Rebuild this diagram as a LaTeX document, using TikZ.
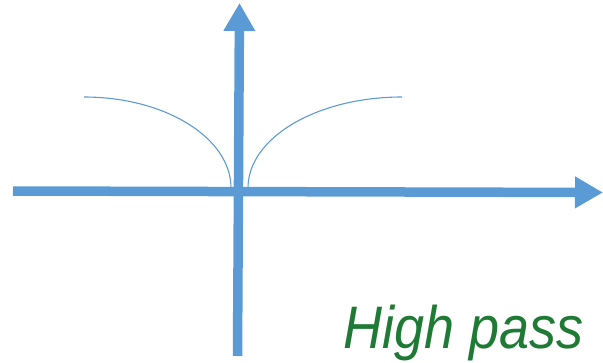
\documentclass[tikz,border=0pt]{standalone}
\usepackage{fontspec}
\setmainfont{Liberation Sans}
\usetikzlibrary{arrows.meta}
\definecolor{axisblue}{RGB}{91,155,213}
\definecolor{penGreen}{RGB}{30,122,52}
\tikzset{
  axis/.style={draw=axisblue, line width=9.5pt, -{Triangle[width=30pt,length=28pt]}},
  curve/.style={draw=axisblue, line width=1.1pt},
  hand/.style={text=penGreen, font=\itshape\fontsize{60}{60}\selectfont, anchor=base west, inner sep=0pt}
}
\begin{document}
\begin{tikzpicture}[x=1pt,y=-1pt]
\useasboundingbox (0,0) rectangle (603,362);
\coordinate (hl) at (13,191);
\coordinate (hr) at (603,192.5);
\coordinate (vb) at (237.5,356);
\coordinate (vt) at (239.5,3);
\draw[axis] (hl) -- (hr);
\draw[axis] (vb) -- (vt);
\coordinate (l1) at (84,97);
\coordinate (l2) at (231,188);
\coordinate (r1) at (248,188);
\coordinate (r2) at (402,97);
\draw[curve] (l1) .. controls (165,97) and (231,137.7) .. (l2);
\draw[curve] (r1) .. controls (248,137.7) and (317,97) .. (r2);
\node[hand, xscale=0.9] (txt) at (343,348) {High pass};
\end{tikzpicture}
\end{document}
